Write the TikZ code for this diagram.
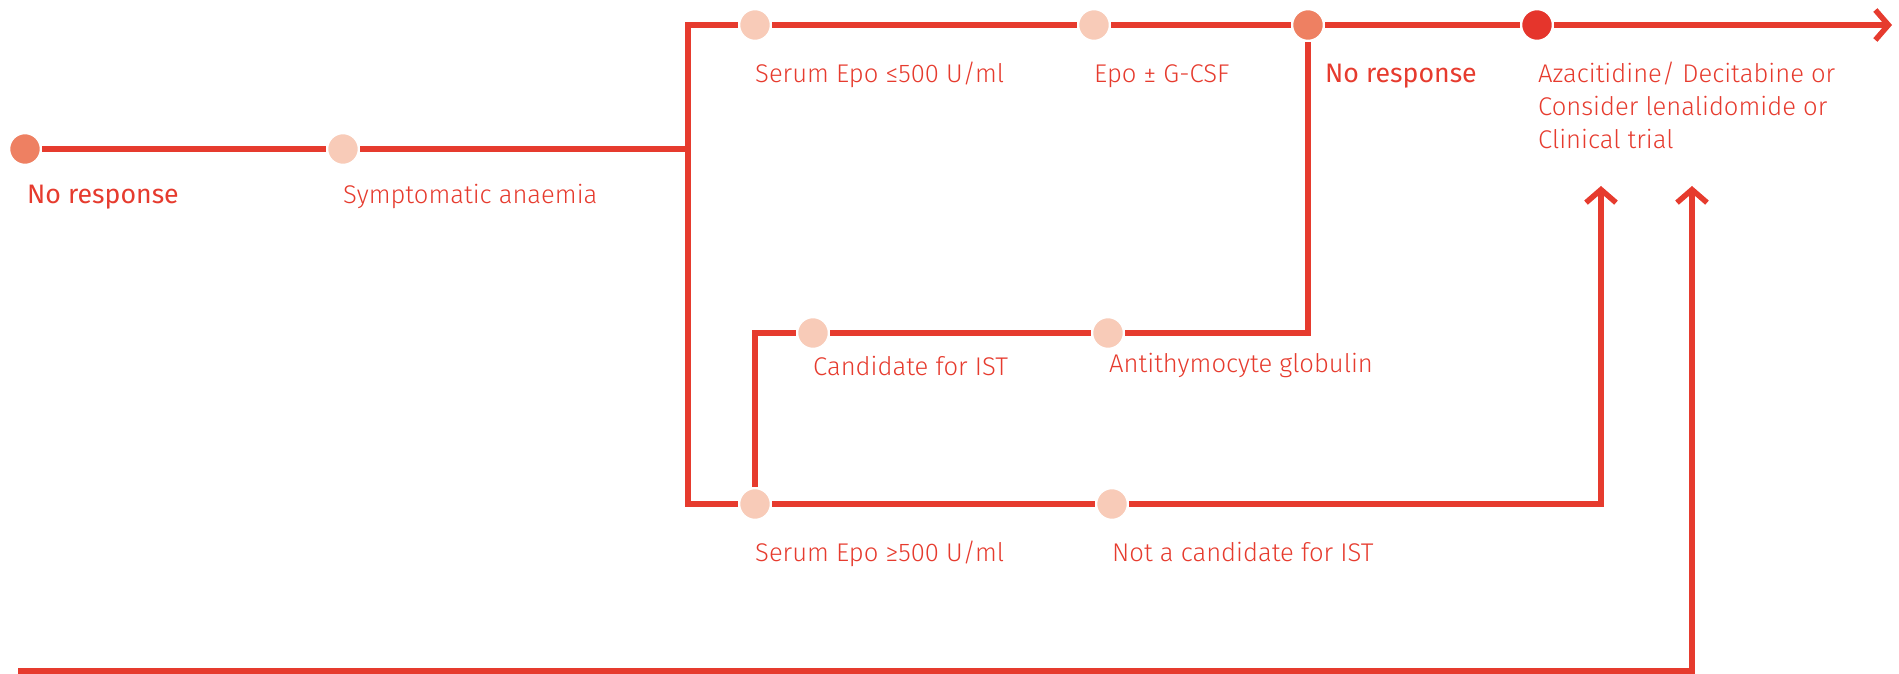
\documentclass[tikz,border=0pt]{standalone}
\usepackage{fontspec}
\setmainfont{Fira Sans Light}
\newfontfamily\medfont{Fira Sans}
\usetikzlibrary{arrows.meta}
\definecolor{flowred}{HTML}{E63B2E}
\definecolor{dotpale}{HTML}{F8CBB8}
\definecolor{dotmid}{HTML}{EE8062}
\definecolor{dotdark}{HTML}{E5352C}
\begin{document}
\begin{tikzpicture}[x=1pt,y=-1pt,
  flow/.style={draw=flowred, line width=5.5pt},
  tip/.style={-{Straight Barb[length=13pt,width=30pt]}},
  dot/.style={circle, minimum size=32pt, inner sep=0pt, draw=white, line width=2.5pt},
  pale/.style={dot, fill=dotpale},
  midtone/.style={dot, fill=dotmid},
  dark/.style={dot, fill=dotdark},
  lbl/.style={anchor=base west, text=flowred, inner sep=0pt, align=left,
    font=\fontsize{25.6}{33}\selectfont},
  strong/.style={lbl, font=\medfont\fontsize{26.7}{33}\selectfont}
]
\useasboundingbox (0,0) rectangle (1899,674);

% timeline dots
\node[midtone] (nrA) at (25,149) {};
\node[pale] (sym) at (343,149) {};
\node[pale] (epoLo) at (755,25) {};
\node[pale] (gcsf) at (1094,25) {};
\node[midtone] (nrB) at (1308,25) {};
\node[dark] (aza) at (1537,25) {};
\node[pale] (cand) at (813,333) {};
\node[pale] (atg) at (1108,333) {};
\node[pale] (epoHi) at (755,504) {};
\node[pale] (notc) at (1112,504) {};

% corners and free ends
\coordinate (jmid) at (688,149);
\coordinate (jtop) at (688,25);
\coordinate (jbot) at (688,504);
\coordinate (outA) at (1892,25);
\coordinate (turnA) at (1308,333);
\coordinate (turnB) at (755,333);
\coordinate (turnC) at (1601,504);
\coordinate (outB) at (1601,186);
\coordinate (startD) at (18,671);
\coordinate (turnD) at (1692,671);
\coordinate (outD) at (1692,186);

% connectors
\draw[flow] (nrA) -- (sym);
\draw[flow] (sym) -- (jmid);
\draw[flow] (epoLo) -- (jtop) -- (jbot) -- (epoHi);
\draw[flow] (epoLo) -- (gcsf);
\draw[flow] (gcsf) -- (nrB);
\draw[flow] (nrB) -- (aza);
\draw[flow, tip] (aza) -- (outA);
\draw[flow] (nrB) -- (turnA) -- (atg);
\draw[flow] (atg) -- (cand);
\draw[flow] (cand) -- (turnB) -- (epoHi);
\draw[flow] (epoHi) -- (notc);
\draw[flow, tip] (notc) -- (turnC) -- (outB);
\draw[flow, tip] (startD) -- (turnD) -- (outD);

% labels
\node[strong] at (27,204) {No response};
\node[lbl] at (343,204) {Symptomatic anaemia};
\node[lbl] at (755,83) {Serum Epo ≤500 U/ml};
\node[lbl] at (1094,83) {Epo ± G-CSF};
\node[strong] at (1325,83) {No response};
% three-line label: its base anchor sits on the last line
\node[lbl] at (1538,149) {Azacitidine/ Decitabine or\\Consider lenalidomide or\\Clinical trial};
\node[lbl] at (813,375) {Candidate for IST};
\node[lbl] at (1109,372) {Antithymocyte globulin};
\node[lbl] at (755,561) {Serum Epo ≥500 U/ml};
\node[lbl] at (1112,561) {Not a candidate for IST};
\end{tikzpicture}
\end{document}
